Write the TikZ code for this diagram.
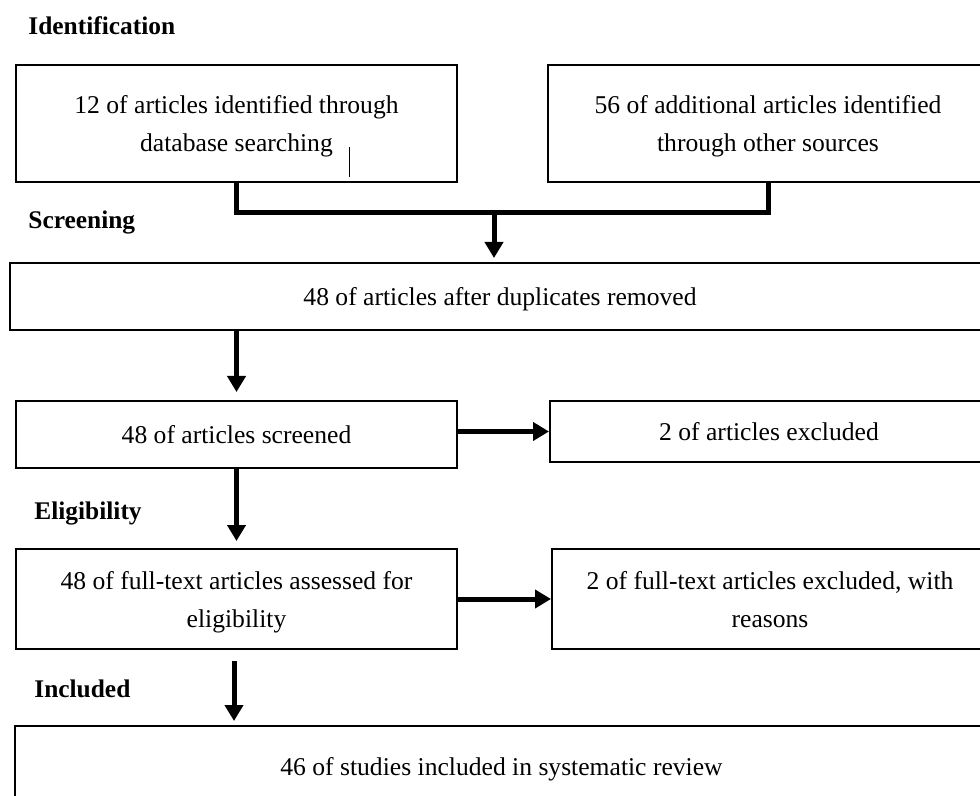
\documentclass[tikz,border=0pt]{standalone}
\usepackage{fontspec}
\setmainfont{Liberation Serif}
\usetikzlibrary{arrows.meta}
\begin{document}
\begin{tikzpicture}[x=0.5pt, y=-0.5pt,
    box/.style={draw, line width=1pt, align=center, inner sep=0pt, text depth=0pt,
      font=\fontsize{12.8}{19}\selectfont},
    stage/.style={anchor=west, inner sep=0pt, font=\fontsize{12.7}{14}\selectfont\bfseries},
    link/.style={line width=2.5pt},
    arr/.style={link, -{Triangle[length=8pt, width=9pt]}}]
    \useasboundingbox (0,0) rectangle (980,796);
    \clip (0,0) rectangle (980,796);
    % Stage labels
    \node[stage] (ident) at (28,26) {Identification};
    \node[stage] (screen) at (28,222) {Screening};
    \node[stage] (elig) at (34,513) {Eligibility};
    \node[stage] (incl) at (34,689) {Included};
    % Boxes
    \node[box, minimum width=220.5pt, minimum height=58.5pt] (db) at (236.5,123.5)
      {12 of articles identified through\\database searching};
    \node[box, minimum width=220pt, minimum height=58.5pt] (other) at (768,123.5)
      {56 of additional articles identified\\through other sources};
    \node[box, minimum width=490pt, minimum height=33.5pt] (dup) at (500,296.5)
      {48 of articles after duplicates removed};
    \node[box, minimum width=220.5pt, minimum height=33.5pt] (scr) at (236.5,434.5)
      {48 of articles screened};
    \node[box, minimum width=219pt, minimum height=30.5pt] (exc) at (769,431.5)
      {2 of articles excluded};
    \node[box, minimum width=220.5pt, minimum height=50pt] (full) at (236.5,599)
      {48 of full-text articles assessed for\\eligibility};
    \node[box, minimum width=218pt, minimum height=50pt] (fexc) at (770,599)
      {2 of full-text articles excluded, with\\reasons};
    \node[box, minimum width=486.5pt, minimum height=40pt] (rev) at (501.5,766)
      {46 of studies included in systematic review};
    % Stray mark in first box
    \draw[line width=0.5pt] (349,147) -- (349,177);
    % Merge of the two sources
    \coordinate (mid) at (494,213);
    \draw[link] (db.south) |- (mid) -| (other.south);
    \draw[arr, shorten >=2pt] (mid) -- (mid |- dup.north);
    % Down the left column
    \draw[arr, shorten >=4pt] (dup.south -| scr.north) -- (scr.north);
    \draw[arr, shorten >=3.5pt] (scr.south) -- (full.north);
    \draw[arr, shorten <=5.5pt, shorten >=2pt] ([xshift=-1.25pt]full.south) -- ([xshift=-1.25pt]full.south |- rev.north);
    % Exclusions
    \draw[arr] (scr.east |- exc.west) -- (exc.west);
    \draw[arr] (full.east) -- (fexc.west);
\end{tikzpicture}
\end{document}
